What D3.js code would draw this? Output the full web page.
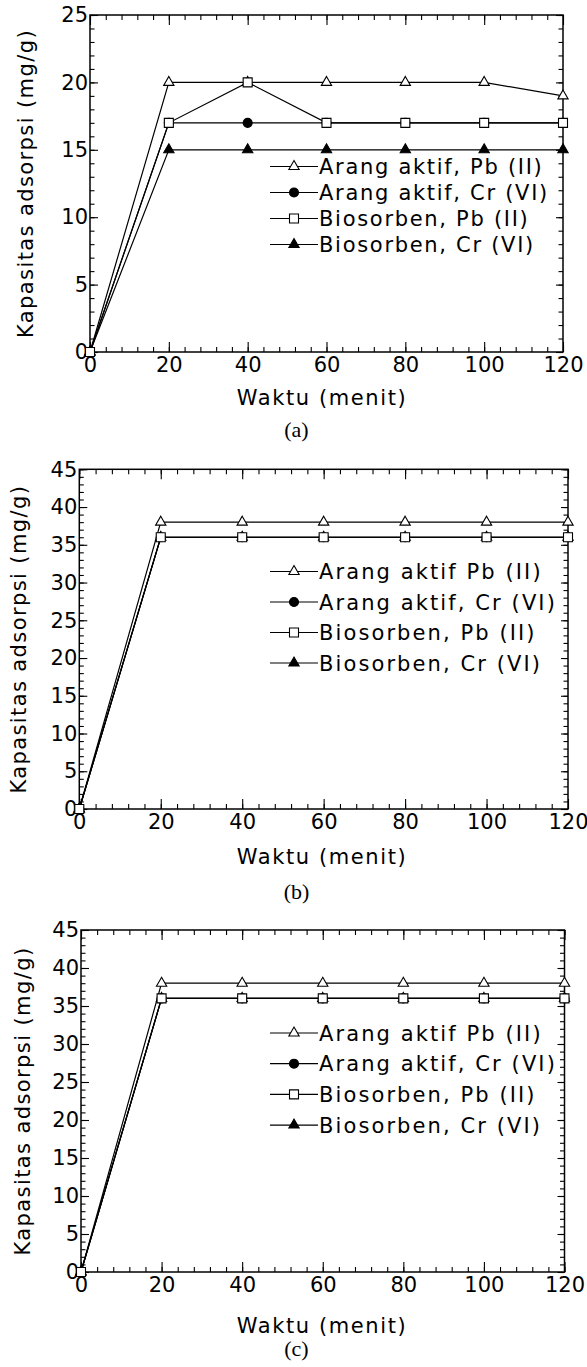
<!DOCTYPE html>
<html><head><meta charset="utf-8">
<script src="https://cdn.jsdelivr.net/npm/d3@7"></script>
<style>body{margin:0;background:#fff}svg{display:block}</style>
</head><body><svg id="c" width="587" height="1367"></svg>
<script>
// ---- data ----
const waktu = [0, 20, 40, 60, 80, 100, 120];
const xTicks = [0, 20, 40, 60, 80, 100, 120];
const yTicksA = [0, 5, 10, 15, 20, 25];
const yTicksBC = [0, 5, 10, 15, 20, 25, 30, 35, 40, 45];

const a_arangPb = [0, 20, 20, 20, 20, 20, 19];
const a_arangCr = [0, 17, 17, 17, 17, 17, 17];
const a_bioPb   = [0, 17, 20, 17, 17, 17, 17];
const a_bioCr   = [0, 15, 15, 15, 15, 15, 15];

const b_arangPb = [0, 38, 38, 38, 38, 38, 38];
const b_arangCr = [0, 36, 36, 36, 36, 36, 36];
const b_bioPb   = [0, 36, 36, 36, 36, 36, 36];
const b_bioCr   = [0, 36, 36, 36, 36, 36, 36];

const c_arangPb = [0, 38, 38, 38, 38, 38, 38];
const c_arangCr = [0, 36, 36, 36, 36, 36, 36];
const c_bioPb   = [0, 36, 36, 36, 36, 36, 36];
const c_bioCr   = [0, 36, 36, 36, 36, 36, 36];

const labelsA  = ["Arang aktif, Pb (II)", "Arang aktif, Cr (VI)", "Biosorben, Pb (II)", "Biosorben, Cr (VI)"];
const labelsBC = ["Arang aktif Pb (II)", "Arang aktif, Cr (VI)", "Biosorben, Pb (II)", "Biosorben, Cr (VI)"];
const markerTypes = ["triOpen", "circle", "square", "triFilled"];
const yTitle = "Kapasitas adsorpsi (mg/g)";
const xTitle = "Waktu (menit)";

// ---- layout ----
const panels = [
  {series:[a_arangPb,a_arangCr,a_bioPb,a_bioCr], labels:labelsA, yTicks:yTicksA, ymax:25,
   L:90, R:563, T:15, B:352, legY:166.5, legDy:26, legLS:1.7, ytX:25, xtX:322, xtY:405, capY:437, cap:"(a)"},
  {series:[b_arangPb,b_arangCr,b_bioPb,b_bioCr], labels:labelsBC, yTicks:yTicksBC, ymax:45,
   L:79.3, R:568, T:469.3, B:809, legY:571.5, legDy:30.5, legLS:2.1, ytX:18, xtX:322, xtY:864, capY:899, cap:"(b)"},
  {series:[c_arangPb,c_arangCr,c_bioPb,c_bioCr], labels:labelsBC, yTicks:yTicksBC, ymax:45,
   L:81, R:564.5, T:930, B:1272, legY:1033, legDy:30.7, legLS:2.1, ytX:22, xtX:322, xtY:1333, capY:1356, cap:"(c)"}
];
const FONT = "DejaVu Sans, Verdana, sans-serif";
const svg = d3.select("#c");
svg.append("rect").attr("width",587).attr("height",1367).attr("fill","#fff");

const triGen = d3.symbol().type(d3.symbolTriangle).size(46);
const sqGen = d3.symbol().type(d3.symbolSquare).size(81);
const ciGen = d3.symbol().type(d3.symbolCircle).size(64);
function drawMarker(g, type, x, y) {
  let gen = type.startsWith("tri") ? triGen : type === "square" ? sqGen : ciGen;
  let fill = (type === "triOpen" || type === "square") ? "#fff" : "#000";
  g.append("path").attr("d", gen()).attr("transform", `translate(${x},${y})`)
    .attr("fill", fill).attr("stroke", "#000").attr("stroke-width", 1.1);
}

panels.forEach(p => {
  const g = svg.append("g");
  const x = d3.scaleLinear().domain([0,120]).range([p.L, p.R]);
  const y = d3.scaleLinear().domain([0,p.ymax]).range([p.B, p.T]);

  function styleAxis(sel, labels) {
    sel.select(".domain").remove();
    sel.selectAll("line").attr("stroke","#000").attr("stroke-width",1.1);
    sel.attr("font-family", FONT).attr("font-size", 21);
    sel.selectAll("text").attr("fill","#000");
  }
  // minor ticks
  const xMinor = d3.range(0, 121, 4);
  const yMinor = d3.range(0, p.ymax + 0.001, 1);
  g.append("g").attr("transform",`translate(0,${p.B})`).call(d3.axisBottom(x).tickValues(xMinor).tickSize(-5).tickFormat("")).call(styleAxis);
  g.append("g").attr("transform",`translate(0,${p.T})`).call(d3.axisTop(x).tickValues(xMinor).tickSize(-5).tickFormat("")).call(styleAxis);
  g.append("g").attr("transform",`translate(${p.L},0)`).call(d3.axisLeft(y).tickValues(yMinor).tickSize(-4.5).tickFormat("")).call(styleAxis);
  g.append("g").attr("transform",`translate(${p.R},0)`).call(d3.axisRight(y).tickValues(yMinor).tickSize(-4.5).tickFormat("")).call(styleAxis);
  // major ticks
  g.append("g").attr("transform",`translate(0,${p.B})`).call(d3.axisBottom(x).tickValues(xTicks).tickSize(-10).tickPadding(5)).call(styleAxis);
  g.append("g").attr("transform",`translate(0,${p.T})`).call(d3.axisTop(x).tickValues(xTicks).tickSize(-10).tickFormat("")).call(styleAxis);
  g.append("g").attr("transform",`translate(${p.L},0)`).call(d3.axisLeft(y).tickValues(p.yTicks).tickSize(-8).tickPadding(2)).call(styleAxis);
  g.append("g").attr("transform",`translate(${p.R},0)`).call(d3.axisRight(y).tickValues(p.yTicks).tickSize(-7).tickFormat("")).call(styleAxis);
  // frame
  g.append("rect").attr("x",p.L).attr("y",p.T).attr("width",p.R-p.L).attr("height",p.B-p.T)
    .attr("fill","none").attr("stroke","#000").attr("stroke-width",1.5);

  // series: draw order puts squares (Biosorben Pb) on top
  const order = [0, 1, 3, 2];
  const line = d3.line().x((d,i)=>x(waktu[i])).y(d=>y(d));
  order.forEach(si => {
    const vals = p.series[si];
    g.append("path").attr("d", line(vals)).attr("fill","none").attr("stroke","#000").attr("stroke-width",1.2);
  });
  order.forEach(si => {
    const vals = p.series[si];
    vals.forEach((v,i) => drawMarker(g, markerTypes[si], x(waktu[i]), y(v)));
  });

  // legend
  p.labels.forEach((lab, i) => {
    const ly = p.legY + i * p.legDy;
    g.append("line").attr("x1",270).attr("x2",318).attr("y1",ly).attr("y2",ly).attr("stroke","#000").attr("stroke-width",1.2);
    drawMarker(g, markerTypes[i], 294, ly);
    g.append("text").attr("x",319).attr("y",ly).attr("dy","0.36em")
      .attr("font-family",FONT).attr("font-size",21).attr("letter-spacing",p.legLS).text(lab);
  });

  // titles
  g.append("text").attr("transform",`translate(${p.ytX},${(p.T+p.B)/2}) rotate(-90)`)
    .attr("text-anchor","middle").attr("dy","0.36em")
    .attr("font-family",FONT).attr("font-size",21).attr("letter-spacing",1.4).text(yTitle);
  g.append("text").attr("x",p.xtX).attr("y",p.xtY).attr("text-anchor","middle")
    .attr("font-family",FONT).attr("font-size",21).attr("letter-spacing",1.6).text(xTitle);
  g.append("text").attr("x",296.5).attr("y",p.capY).attr("text-anchor","middle")
    .attr("font-family","Liberation Serif, Times New Roman, serif").attr("font-size",22).text(p.cap);
});
</script>
</body></html>
